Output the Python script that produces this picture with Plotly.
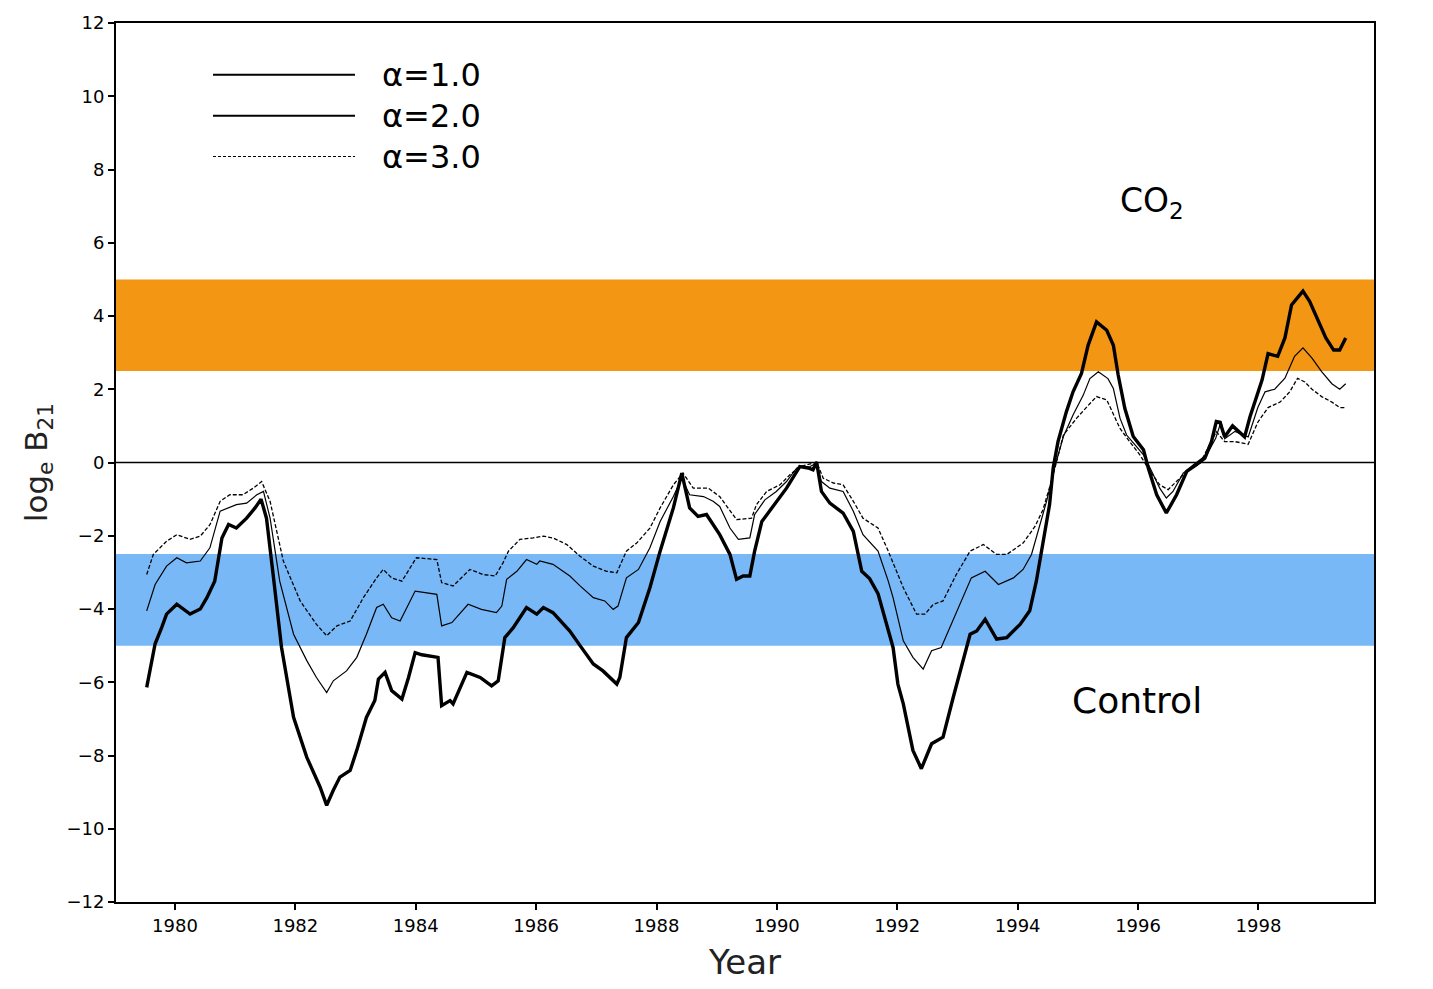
import plotly.graph_objects as go

# Bayes factor time series (log_e B21) for three prior-width settings
years_a1 = [1979.53, 1979.67, 1979.78, 1979.86, 1980.03, 1980.25, 1980.42, 1980.53, 1980.66, 1980.78,
            1980.89, 1981.02, 1981.19, 1981.33, 1981.43, 1981.52, 1981.63, 1981.77, 1981.97, 1982.19,
            1982.41, 1982.52, 1982.63, 1982.74, 1982.91, 1983.02, 1983.18, 1983.32, 1983.38, 1983.49,
            1983.60, 1983.77, 1983.88, 1983.99, 1984.10, 1984.37, 1984.43, 1984.57, 1984.62, 1984.85,
            1985.07, 1985.26, 1985.37, 1985.48, 1985.62, 1985.84, 1986.01, 1986.12, 1986.28, 1986.56,
            1986.73, 1986.95, 1987.11, 1987.34, 1987.39, 1987.50, 1987.70, 1987.89, 1988.06, 1988.28,
            1988.42, 1988.55, 1988.69, 1988.83, 1989.05, 1989.22, 1989.33, 1989.44, 1989.55, 1989.63,
            1989.75, 1989.94, 1990.16, 1990.38, 1990.52, 1990.60, 1990.66, 1990.74, 1990.88, 1991.10,
            1991.27, 1991.41, 1991.54, 1991.68, 1991.85, 1991.93, 1992.01, 1992.10, 1992.26, 1992.40,
            1992.57, 1992.76, 1992.93, 1993.09, 1993.21, 1993.32, 1993.46, 1993.65, 1993.82, 1994.04,
            1994.20, 1994.31, 1994.42, 1994.53, 1994.59, 1994.67, 1994.81, 1994.92, 1995.06, 1995.17,
            1995.31, 1995.48, 1995.59, 1995.67, 1995.78, 1995.92, 1996.09, 1996.17, 1996.31, 1996.47,
            1996.64, 1996.81, 1996.97, 1997.11, 1997.22, 1997.30, 1997.36, 1997.44, 1997.57, 1997.77,
            1997.86, 1998.06, 1998.16, 1998.32, 1998.44, 1998.55, 1998.65, 1998.74, 1998.85, 1998.99,
            1999.12, 1999.25, 1999.35, 1999.45]
vals_a1 = [-6.14, -4.95, -4.50, -4.14, -3.87, -4.14, -4.00, -3.69, -3.24, -2.06,
           -1.69, -1.79, -1.52, -1.24, -1.00, -1.52, -3.05, -5.05, -6.96, -8.05,
           -8.86, -9.36, -8.95, -8.59, -8.41, -7.86, -6.96, -6.50, -5.91, -5.73,
           -6.23, -6.46, -5.87, -5.19, -5.25, -5.32, -6.64, -6.50, -6.59, -5.73,
           -5.87, -6.10, -5.96, -4.78, -4.51, -3.96, -4.14, -3.96, -4.10, -4.60,
           -5.00, -5.50, -5.69, -6.05, -5.87, -4.78, -4.37, -3.42, -2.42, -1.24,
           -0.29, -1.24, -1.47, -1.42, -1.97, -2.51, -3.19, -3.10, -3.10, -2.42,
           -1.61, -1.20, -0.70, -0.11, -0.15, -0.20, 0.01, -0.79, -1.11, -1.38,
           -1.88, -2.97, -3.17, -3.58, -4.60, -5.05, -6.05, -6.59, -7.86, -8.36,
           -7.68, -7.50, -6.41, -5.41, -4.69, -4.60, -4.28, -4.82, -4.78, -4.42,
           -4.05, -3.24, -2.24, -1.15, -0.15, 0.57, 1.39, 1.93, 2.43, 3.20,
           3.84, 3.61, 3.20, 2.39, 1.48, 0.71, 0.35, -0.15, -0.88, -1.38,
           -0.88, -0.24, -0.06, 0.12, 0.57, 1.12, 1.10, 0.70, 1.00, 0.70,
           1.25, 2.25, 2.97, 2.90, 3.40, 4.30, 4.50, 4.68, 4.40, 3.90,
           3.40, 3.07, 3.07, 3.40]

years_a2 = [1979.53, 1979.67, 1979.86, 1980.03, 1980.19, 1980.42, 1980.58, 1980.75, 1981.02, 1981.19,
            1981.36, 1981.47, 1981.58, 1981.74, 1981.97, 1982.19, 1982.35, 1982.52, 1982.63, 1982.85,
            1983.02, 1983.18, 1983.35, 1983.46, 1983.60, 1983.74, 1983.99, 1984.35, 1984.43, 1984.60,
            1984.87, 1985.09, 1985.34, 1985.43, 1985.51, 1985.68, 1985.84, 1986.01, 1986.06, 1986.28,
            1986.56, 1986.73, 1986.95, 1987.14, 1987.28, 1987.36, 1987.50, 1987.70, 1987.89, 1988.06,
            1988.28, 1988.42, 1988.55, 1988.78, 1988.94, 1989.05, 1989.22, 1989.36, 1989.55, 1989.63,
            1989.80, 1989.99, 1990.16, 1990.33, 1990.55, 1990.66, 1990.74, 1990.88, 1991.10, 1991.27,
            1991.43, 1991.68, 1991.85, 1991.93, 1992.10, 1992.26, 1992.43, 1992.57, 1992.73, 1992.87,
            1993.09, 1993.23, 1993.46, 1993.68, 1993.93, 1994.09, 1994.23, 1994.37, 1994.48, 1994.62,
            1994.76, 1994.92, 1995.09, 1995.20, 1995.34, 1995.50, 1995.59, 1995.70, 1995.81, 1995.95,
            1996.09, 1996.20, 1996.36, 1996.47, 1996.58, 1996.75, 1996.92, 1997.14, 1997.29, 1997.38,
            1997.44, 1997.61, 1997.83, 1997.99, 1998.11, 1998.27, 1998.44, 1998.60, 1998.74, 1998.89,
            1999.05, 1999.22, 1999.35, 1999.45]
vals_a2 = [-4.05, -3.33, -2.83, -2.60, -2.74, -2.69, -2.33, -1.33, -1.15, -1.11,
           -0.88, -0.79, -1.52, -3.24, -4.69, -5.41, -5.87, -6.28, -5.96, -5.69,
           -5.32, -4.69, -3.96, -3.87, -4.24, -4.33, -3.51, -3.60, -4.46, -4.37,
           -3.87, -4.01, -4.10, -3.92, -3.19, -2.97, -2.65, -2.78, -2.69, -2.78,
           -3.10, -3.37, -3.69, -3.78, -4.01, -3.92, -3.15, -2.92, -2.33, -1.61,
           -0.93, -0.43, -0.88, -0.93, -1.06, -1.20, -1.79, -2.10, -2.06, -1.42,
           -1.02, -0.79, -0.52, -0.15, -0.11, -0.02, -0.52, -0.70, -0.79, -1.33,
           -1.97, -2.42, -3.24, -3.69, -4.87, -5.32, -5.64, -5.14, -5.05, -4.51,
           -3.69, -3.15, -2.97, -3.33, -3.15, -2.92, -2.51, -1.70, -1.06, -0.10,
           0.71, 1.30, 1.84, 2.29, 2.48, 2.29, 2.02, 1.21, 0.75, 0.48,
           0.21, -0.15, -0.70, -0.97, -0.79, -0.29, -0.06, 0.21, 0.66, 1.12,
           0.65, 0.85, 0.70, 1.50, 1.93, 2.00, 2.30, 2.90, 3.13, 2.85,
           2.48, 2.15, 2.00, 2.15]

years_a3 = [1979.53, 1979.64, 1979.86, 1980.03, 1980.25, 1980.42, 1980.58, 1980.75, 1980.91, 1981.13,
            1981.30, 1981.44, 1981.58, 1981.80, 1982.08, 1982.35, 1982.52, 1982.69, 1982.91, 1983.13,
            1983.35, 1983.46, 1983.60, 1983.77, 1984.01, 1984.35, 1984.43, 1984.62, 1984.90, 1985.12,
            1985.32, 1985.45, 1985.54, 1985.73, 1985.95, 1986.12, 1986.28, 1986.51, 1986.73, 1986.95,
            1987.17, 1987.34, 1987.50, 1987.67, 1987.89, 1988.06, 1988.28, 1988.44, 1988.61, 1988.86,
            1989.05, 1989.22, 1989.33, 1989.58, 1989.66, 1989.83, 1990.05, 1990.22, 1990.38, 1990.66,
            1990.77, 1990.94, 1991.10, 1991.27, 1991.43, 1991.68, 1991.85, 1992.10, 1992.32, 1992.46,
            1992.60, 1992.76, 1992.98, 1993.21, 1993.43, 1993.65, 1993.82, 1994.09, 1994.29, 1994.42,
            1994.58, 1994.76, 1994.98, 1995.15, 1995.31, 1995.48, 1995.59, 1995.70, 1995.86, 1996.03,
            1996.20, 1996.36, 1996.50, 1996.64, 1996.81, 1997.03, 1997.19, 1997.30, 1997.44, 1997.61,
            1997.83, 1997.99, 1998.16, 1998.36, 1998.52, 1998.65, 1998.77, 1998.89, 1999.05, 1999.22,
            1999.35, 1999.45]
vals_a3 = [-3.06, -2.51, -2.15, -1.97, -2.10, -2.01, -1.70, -1.06, -0.88, -0.88,
           -0.70, -0.52, -1.06, -2.69, -3.78, -4.42, -4.73, -4.46, -4.33, -3.69,
           -3.15, -2.92, -3.15, -3.24, -2.60, -2.65, -3.28, -3.37, -2.92, -3.06,
           -3.10, -2.74, -2.42, -2.10, -2.06, -2.01, -2.06, -2.24, -2.56, -2.83,
           -2.97, -3.01, -2.42, -2.20, -1.79, -1.24, -0.61, -0.29, -0.70, -0.70,
           -0.93, -1.33, -1.56, -1.52, -1.15, -0.79, -0.61, -0.33, -0.11, 0.01,
           -0.43, -0.56, -0.61, -1.06, -1.52, -1.79, -2.42, -3.42, -4.14, -4.14,
           -3.87, -3.78, -3.06, -2.42, -2.24, -2.51, -2.51, -2.20, -1.74, -1.29,
           -0.40, 0.75, 1.21, 1.52, 1.80, 1.71, 1.30, 0.93, 0.57, 0.21,
           -0.24, -0.61, -0.74, -0.52, -0.24, -0.02, 0.48, 0.84, 0.57, 0.57,
           0.50, 1.10, 1.50, 1.65, 1.93, 2.30, 2.20, 2.00, 1.80, 1.65,
           1.50, 1.50]

# Evidence bands: strong support for CO2 (top) and for the control run (bottom)
co2_band = [2.5, 5.0]
control_band = [-5.0, -2.5]

legend_labels = ["α=1.0", "α=2.0", "α=3.0"]
x_ticks = list(range(1980, 2000, 2))
y_ticks = list(range(-12, 13, 2))

FONT = "DejaVu Sans"

fig = go.Figure()

fig.add_trace(go.Scatter(x=years_a3, y=vals_a3, mode="lines",
                         line=dict(color="black", width=1.3, dash="4px,2px"), showlegend=False))
fig.add_trace(go.Scatter(x=years_a2, y=vals_a2, mode="lines",
                         line=dict(color="black", width=1.2), showlegend=False))
fig.add_trace(go.Scatter(x=years_a1, y=vals_a1, mode="lines",
                         line=dict(color="black", width=3.4), showlegend=False))

# shaded bands
fig.add_shape(type="rect", xref="paper", x0=0, x1=1, yref="y", y0=co2_band[0], y1=co2_band[1],
              fillcolor="#F39614", line=dict(width=0), layer="below")
fig.add_shape(type="rect", xref="paper", x0=0, x1=1, yref="y", y0=control_band[0], y1=control_band[1],
              fillcolor="#78B8F6", line=dict(width=0), layer="below")
# zero reference line
fig.add_shape(type="line", xref="paper", x0=0, x1=1, yref="y", y0=0, y1=0,
              line=dict(color="black", width=1.5))

# hand-placed key in the upper left
key_rows = [0.9411, 0.8946, 0.8481]
key_styles = [dict(width=2), dict(width=2), dict(width=1.2, dash="3px,2px")]
for label, yy, st in zip(legend_labels, key_rows, key_styles):
    fig.add_shape(type="line", xref="paper", yref="paper", x0=0.0771, x1=0.19, y0=yy, y1=yy,
                  line=dict(color="black", **st))
    fig.add_annotation(xref="paper", yref="paper", x=0.21, y=yy, text=label, showarrow=False,
                       xanchor="left", yanchor="middle", font=dict(family=FONT, size=32, color="black"))

fig.add_annotation(x=1996.23, y=7.1, text="CO<sub>2</sub>", showarrow=False,
                   font=dict(family=FONT, size=33, color="black"))
fig.add_annotation(x=1995.98, y=-6.5, text="Control", showarrow=False,
                   font=dict(family=FONT, size=36, color="black"))

axis_common = dict(showline=True, linecolor="black", linewidth=2, showgrid=False, zeroline=False,
                   ticks="outside", ticklen=6, tickwidth=1.5, tickcolor="black",
                   tickfont=dict(family=FONT, size=18, color="black"))

fig.update_layout(
    width=1433, height=989,
    margin=dict(l=116, r=59, t=20, b=87),
    paper_bgcolor="white", plot_bgcolor="white",
    xaxis=dict(range=[1979.02, 1999.92], tickvals=x_ticks, mirror=True,
               title=dict(text="Year", font=dict(family=FONT, size=34, color="#222"), standoff=16),
               **axis_common),
    yaxis=dict(range=[-12, 12], tickvals=y_ticks, mirror=True,
               title=dict(text="log<sub>e</sub> B<sub>21</sub>", font=dict(family=FONT, size=31, color="#222"),
                          standoff=10),
               **axis_common),
    yaxis2=dict(range=[-12, 12], tickvals=y_ticks, overlaying="y", side="right", **axis_common),
)

fig.write_html("out.html")
